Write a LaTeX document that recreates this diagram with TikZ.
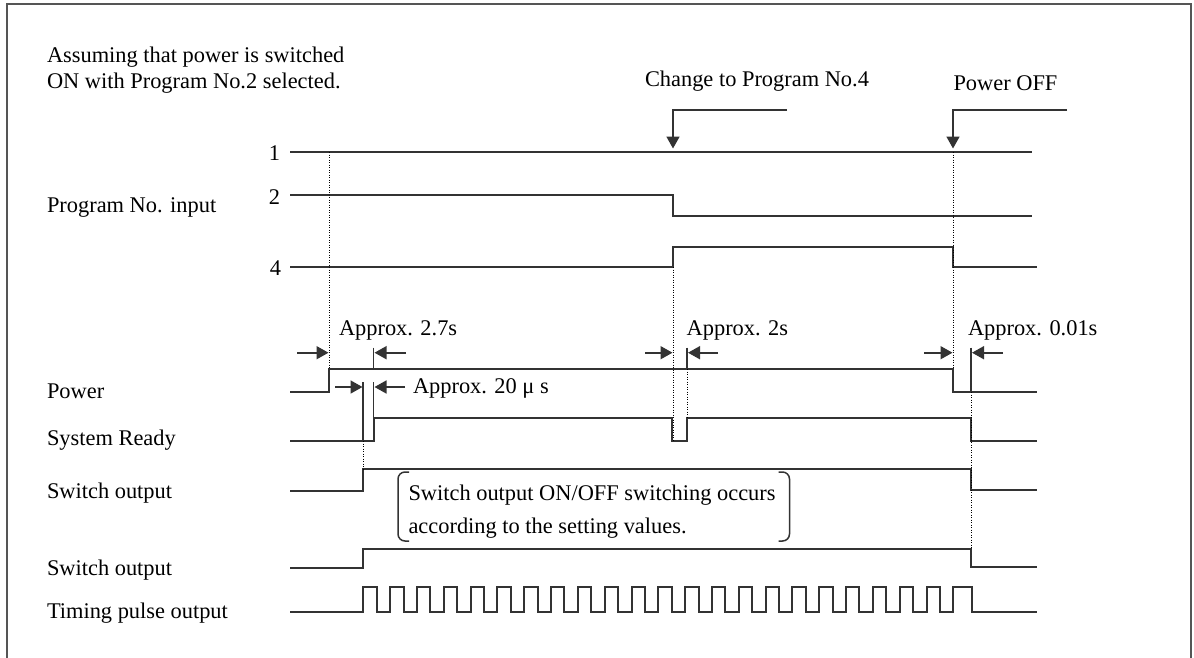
\documentclass[tikz,border=0pt]{standalone}
\usepackage{fontspec}
\setmainfont{Liberation Serif}
\usetikzlibrary{arrows.meta}
\definecolor{sig}{HTML}{333333}
\definecolor{frm}{HTML}{555555}
\begin{document}
\begin{tikzpicture}[x=1pt,y=-1pt,
  every node/.style={inner sep=0pt, outer sep=0pt, font=\fontsize{22.4}{26}\selectfont},
  lbl/.style={anchor=base west},
  lblr/.style={anchor=base east},
  wave/.style={draw=sig, line width=2pt, line join=miter},
  dots/.style={draw=black, line width=0.9pt, dash pattern=on 0.9pt off 1.6pt},
  tickln/.style={draw=sig, line width=1.1pt},
  dimarrow/.style={draw=sig, line width=1.7pt, -{Triangle[length=12pt,width=13pt]}},
  brk/.style={draw=sig, line width=1.5pt, rounded corners=7pt},
]
\useasboundingbox (0,0) rectangle (1194,657);
% frame
\draw[frm, line width=2pt] (6.5,660) -- (6.5,3.5) -- (1190.5,3.5) -- (1190.5,660);

% texts
\node[lbl] (as1) at (47,62.7) {Assuming that power is switched};
\node[lbl] (as2) at (47,88.3) {ON with Program No.2 selected.};
\node[lbl] (prg) at (47,212.5) {Program No. input};
\node[lblr] (n1) at (280,160) {1};
\node[lblr] (n2) at (280,204) {2};
\node[lblr] (n4) at (281,275) {4};
\node[lbl] (chg) at (645,86.7) {Change to Program No.4};
\node[lbl] (poff) at (953.5,90.7) {Power OFF};
\node[lbl] (ap27) at (339,335) {Approx. 2.7s};
\node[lbl] (ap2) at (686.7,335) {Approx. 2s};
\node[lbl] (ap001) at (968,335) {Approx. 0.01s};
\node[lbl] (ap20) at (413,393.3) {Approx. 20 μ s};
\node[lbl] (pwr) at (47,398.3) {Power};
\node[lbl] (sysr) at (47,445) {System Ready};
\node[lbl] (sw1) at (47,498.3) {Switch output};
\node[lbl] (sw2) at (47,575) {Switch output};
\node[lbl] (tpo) at (47,618.3) {Timing pulse output};
\node[lbl] (br1) at (408.5,500) {Switch output ON/OFF switching occurs};
\node[lbl] (br2) at (408.5,533.3) {according to the setting values.};

% brackets
\draw[brk] (409,472) -- (398,472) -- (398,541) -- (409,541);
\draw[brk] (778.5,472) -- (789.5,472) -- (789.5,541) -- (778.5,541);

% waveforms
\draw[wave] (290,152) -- (1032,152);
\draw[wave] (290,195) -- (673,195) -- (673,216) -- (1032,216);
\draw[wave] (290,267) -- (673,267) -- (673,247) -- (953,247) -- (953,267) -- (1037,267);
\draw[wave] (290,392) -- (329,392) -- (329,369) -- (953,369) -- (953,392) -- (1037,392);
\draw[wave] (290,441) -- (373.5,441) -- (373.5,418) -- (672,418) -- (672,441) -- (687,441) -- (687,418) -- (971,418) -- (971,441) -- (1037,441);
\draw[wave] (290,491) -- (363,491) -- (363,469) -- (971,469) -- (971,490) -- (1037,490);
\draw[wave] (290,568) -- (363,568) -- (363,549) -- (971,549) -- (971,567) -- (1037,567);
\draw[wave] (290,612) foreach \k in {0,...,21}{ -- ({363.3+26.82*\k},612) -- ++(0,-25) -- ++(13.4,0) -- ++(0,25) } -- (953.3,612) -- (953.3,587) -- (971.5,587) -- (971.5,612) -- (1037,612);

% dotted guides
\draw[dots] (329,152) -- (329,369);
\draw[dots] (673,267) -- (673,441);
\draw[dots] (687,369) -- (687,418);
\draw[dots] (953,152) -- (953,369);
\draw[dots] (971,392) -- (971,549);
\draw[dots] (363,441) -- (363,469);

% ticks
\draw[tickln] (373.5,347.5) -- (373.5,369);
\draw[tickln] (687,347.5) -- (687,369);
\draw[tickln] (971,347.5) -- (971,392);
\draw[tickln] (363,382) -- (363,441);
\draw[tickln] (373.5,382) -- (373.5,418);

% dimension arrows
\coordinate (a1s) at (297,352.7);   \coordinate (a1e) at (328.5,352.7);
\coordinate (a2s) at (406,352.7);   \coordinate (a2e) at (374.5,352.7);
\coordinate (a3s) at (645,352.7);   \coordinate (a3e) at (672.5,352.7);
\coordinate (a4s) at (718,352.7);   \coordinate (a4e) at (688,352.7);
\coordinate (a5s) at (924,352.7);   \coordinate (a5e) at (952.5,352.7);
\coordinate (a6s) at (1003,352.7);  \coordinate (a6e) at (972,352.7);
\coordinate (a7s) at (335,387);     \coordinate (a7e) at (362.5,387);
\coordinate (a8s) at (405,387);     \coordinate (a8e) at (374.5,387);
\foreach \i in {1,...,8}{\draw[dimarrow] (a\i s) -- (a\i e);}

% event arrows
\coordinate (c0) at (787,110); \coordinate (c1) at (673,110); \coordinate (c2) at (673,148.5);
\coordinate (p0) at (1067,110); \coordinate (p1) at (953,110); \coordinate (p2) at (953,148.5);
\draw[dimarrow, line join=miter] (c0) -- (c1) -- (c2);
\draw[dimarrow, line join=miter] (p0) -- (p1) -- (p2);
\end{tikzpicture}
\end{document}
